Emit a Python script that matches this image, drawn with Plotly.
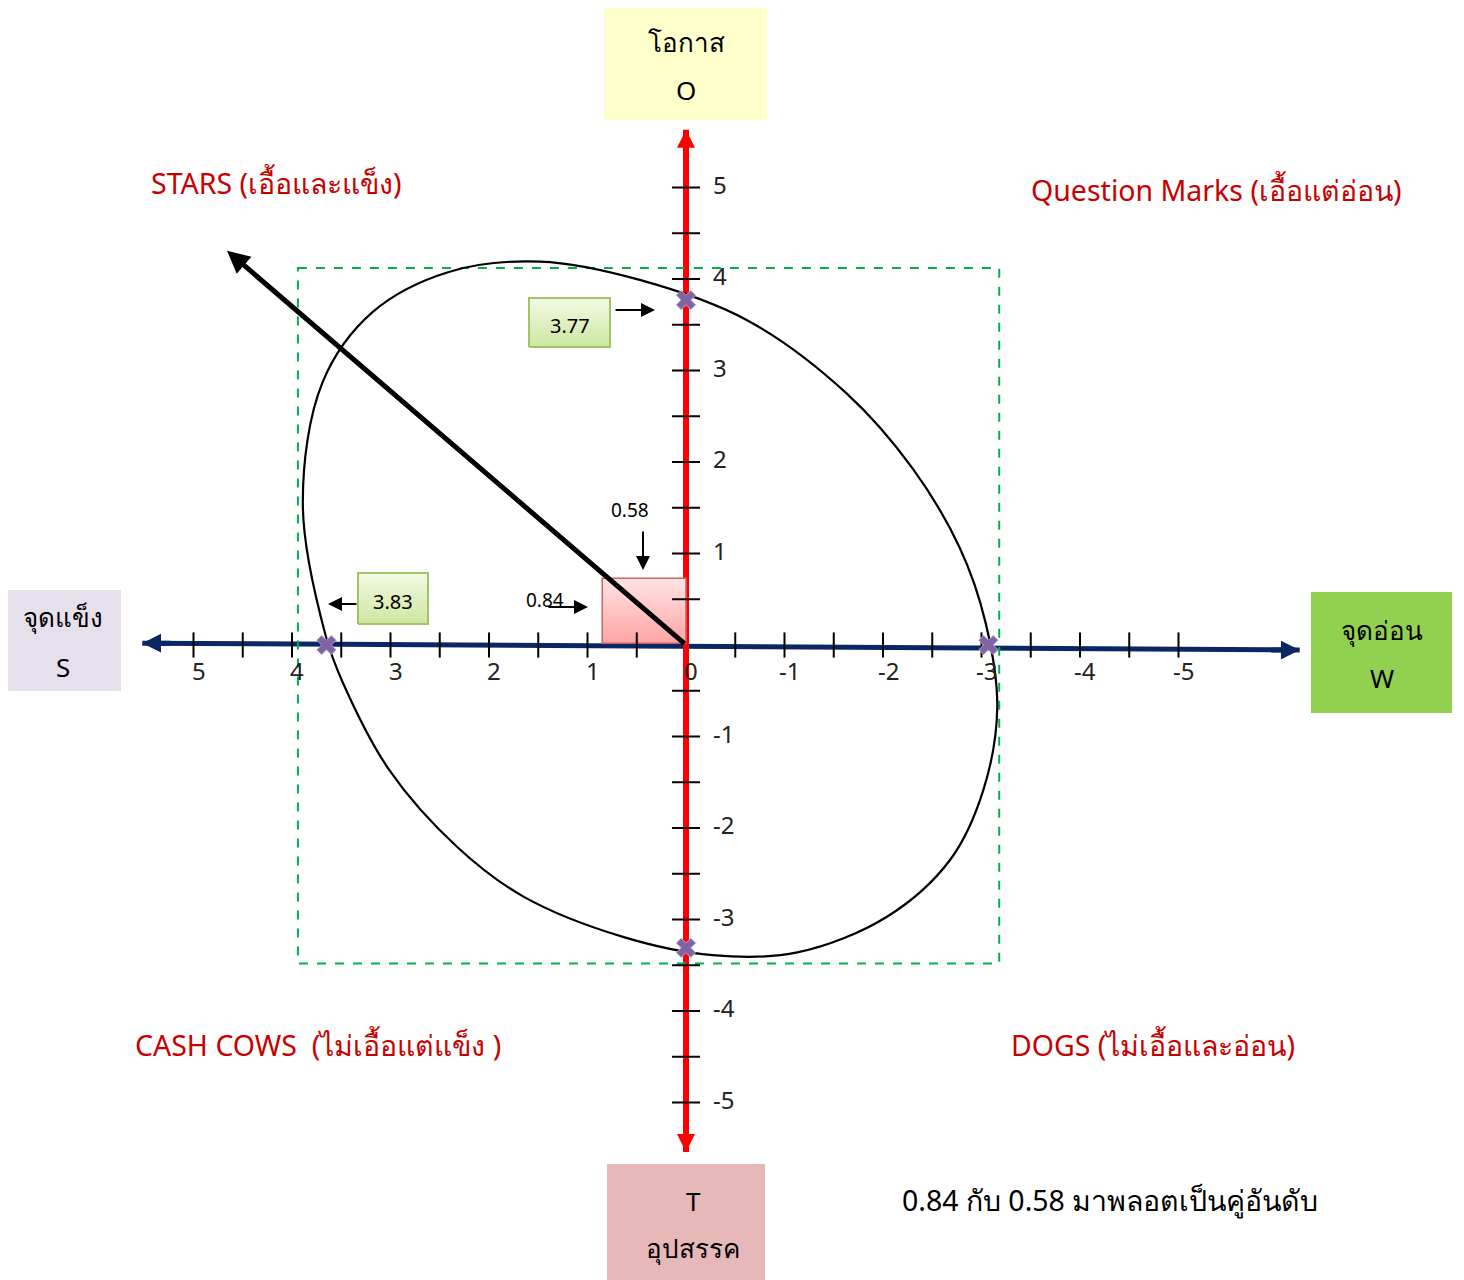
import plotly.graph_objects as go

# ---- values ----
tick_vals = [-5, -4.5, -4, -3.5, -3, -2.5, -2, -1.5, -1, -0.5,
             0.5, 1, 1.5, 2, 2.5, 3, 3.5, 4, 4.5, 5]
x_label_vals = [5, 4, 3, 2, 1, 0, -1, -2, -3, -4, -5]
x_label_text = ["5", "4", "3", "2", "1", "0", "-1", "-2", "-3", "-4", "-5"]
y_label_vals = [5, 4, 3, 2, 1, -1, -2, -3, -4, -5]
y_label_text = ["5", "4", "3", "2", "1", "-1", "-2", "-3", "-4", "-5"]

# outline of the hand drawn ellipse
ell_x = [3.66, 3.89, 3.69, 3.18, 2.40, 1.48, 0.47, -0.62, -1.63, -2.30, -2.78,
         -3.04, -3.16, -3.02, -2.68, -2.04, -1.13, -0.27, 0.64, 1.65, 2.32,
         3.01, 3.48, 3.66]
ell_y = [0.11, 1.53, 2.87, 3.64, 4.08, 4.19, 3.99, 3.55, 2.75, 1.93, 1.06,
         0.25, -0.68, -1.58, -2.35, -2.97, -3.36, -3.39, -3.19, -2.75, -2.21,
         -1.37, -0.42, 0.11]

# where the ellipse cuts the axes
cross_x = [3.65, 0, -3.07, 0]
cross_y = [0, 3.77, 0, -3.31]

# the plotted pair (0.84, 0.58) as drawn, and the direction arrow
sq_w, sq_h = 0.85, 0.73
arrow_tip = (4.66, 4.31)
frame_x = [3.94, -3.18]
frame_y = [4.12, -3.48]
x_axis_ends = [5.52, -6.23]
x_axis_tilt = [0.02, -0.055]
y_axis_ends = [5.63, -5.54]

quadrants = ["STARS (เอื้อและแข็ง)", "Question Marks (เอื้อแต่อ่อน)",
             "CASH COWS  (ไม่เอื้อแต่แข็ง )", "DOGS (ไม่เอื้อและอ่อน)"]
note = "0.84 กับ 0.58 มาพลอตเป็นคู่อันดับ"

# ---- pixel helpers (screen px of the 1464 x 1280 page) ----
OX, OY, SX, SY = 686, 645, 98.5, 91.5
PAGE_PAD = 8  # default body margin of the html page
W, H = 1464 - PAGE_PAD, 1280 - PAGE_PAD


def dx(p):
    return (OX - p) / SX


def dy(p):
    return (OY - p) / SY


FONT = "Noto Sans, DejaVu Sans, sans-serif"
RED = "#C80000"
NAVY = "#0B2763"

fig = go.Figure()

# pink square for the pair
fig.add_trace(go.Scatter(x=[0, sq_w, sq_w, 0, 0], y=[0.02, 0.02, sq_h, sq_h, 0.02],
                         mode="lines", fill="toself",
                         fillgradient=dict(type="vertical",
                                           colorscale=[[0, "#FFA4A4"], [1, "#FFE4E4"]]),
                         line=dict(color="#C86464", width=1.5), hoverinfo="skip"))

# ellipse
fig.add_trace(go.Scatter(x=ell_x, y=ell_y, mode="lines",
                         line=dict(color="black", width=2.2, shape="spline", smoothing=1),
                         hoverinfo="skip"))

# tick marks
fig.add_trace(go.Scatter(x=tick_vals, y=[0] * len(tick_vals), mode="markers",
                         marker=dict(symbol="line-ns", size=18,
                                     line=dict(width=2, color="black")),
                         hoverinfo="skip"))
fig.add_trace(go.Scatter(x=[0] * len(tick_vals), y=tick_vals, mode="markers",
                         marker=dict(symbol="line-ew", size=20,
                                     line=dict(width=2, color="black")),
                         hoverinfo="skip"))

# y tick labels
fig.add_trace(go.Scatter(x=[dx(713)] * len(y_label_vals), y=y_label_vals, mode="text",
                         text=y_label_text, textposition="middle right",
                         textfont=dict(family=FONT, size=24, color="#222"),
                         hoverinfo="skip"))

# green value boxes (3.77 and 3.83)
for (l, t, r, b), txt in [((529, 298, 610, 347), "3.77"), ((358, 573, 428, 624), "3.83")]:
    fig.add_trace(go.Scatter(x=[dx(l), dx(r), dx(r), dx(l), dx(l)],
                             y=[dy(b), dy(b), dy(t), dy(t), dy(b)],
                             mode="lines", fill="toself",
                             fillgradient=dict(type="vertical",
                                               colorscale=[[0, "#CDE6A0"], [1, "#F3FAE4"]]),
                             line=dict(color="#A3C466", width=2), hoverinfo="skip"))
    fig.add_annotation(x=dx((l + r) / 2), y=dy((t + b) / 2 + 3), text=txt, showarrow=False,
                       font=dict(family=FONT, size=20, color="black"))

# intercept crosses
fig.add_trace(go.Scatter(x=cross_x, y=cross_y, mode="markers",
                         marker=dict(symbol="x", size=17, color="#8064A2",
                                     line=dict(width=1, color="#B4A7D6")),
                         hoverinfo="skip"))

shapes = []
# axes lines (under the markers)
shapes.append(dict(type="line", x0=x_axis_ends[0], x1=x_axis_ends[1],
                   y0=x_axis_tilt[0], y1=x_axis_tilt[1],
                   line=dict(color=NAVY, width=5), layer="below"))
shapes.append(dict(type="line", x0=0, x1=0, y0=y_axis_ends[0], y1=y_axis_ends[1],
                   line=dict(color="#FF0000", width=6), layer="below"))
# dashed frame
shapes.append(dict(type="rect", x0=frame_x[0], x1=frame_x[1], y0=frame_y[0], y1=frame_y[1],
                   line=dict(color="#00B050", width=2, dash="dash"), layer="below"))

# SWOT label boxes
boxes = [
    ((604, 5, 767, 120), "#FFFFCC", [("โอกาส", 42), ("O", 90)], 686),
    ((5, 590, 121, 691), "#E6E0EC", [("จุดแข็ง", 617), ("S", 667)], 63),
    ((1311, 592, 1452, 713), "#92D050", [("จุดอ่อน", 630), ("W", 678)], 1382),
    ((607, 1164, 765, 1284), "#E6B9B8", [("T", 1201), ("อุปสรรค", 1248)], 693),
]
for (l, t, r, b), col, lines, cx in boxes:
    shapes.append(dict(type="rect", x0=dx(l), x1=dx(r), y0=dy(t), y1=dy(b),
                       fillcolor=col, line=dict(width=0), layer="below"))
    for txt, yy in lines:
        fig.add_annotation(x=dx(cx), y=dy(yy), text=txt, showarrow=False,
                           font=dict(family=FONT, size=26, color="black"))

# axis arrow heads
fig.add_annotation(x=x_axis_ends[0], y=x_axis_tilt[0], ax=30, ay=0, text="",
                   showarrow=True, arrowhead=2, arrowsize=0.75, arrowwidth=5, arrowcolor=NAVY)
fig.add_annotation(x=x_axis_ends[1], y=x_axis_tilt[1], ax=-30, ay=0, text="",
                   showarrow=True, arrowhead=2, arrowsize=0.75, arrowwidth=5, arrowcolor=NAVY)
fig.add_annotation(x=0, y=y_axis_ends[0], ax=0, ay=30, text="",
                   showarrow=True, arrowhead=2, arrowsize=0.6, arrowwidth=6, arrowcolor="#FF0000")
fig.add_annotation(x=0, y=y_axis_ends[1], ax=0, ay=-30, text="",
                   showarrow=True, arrowhead=2, arrowsize=0.6, arrowwidth=6, arrowcolor="#FF0000")

# x tick labels
for v, txt in zip(x_label_vals, x_label_text):
    fig.add_annotation(x=v, y=dy(670), text=txt, showarrow=False, xshift=5,
                       font=dict(family=FONT, size=24, color="#222"))

# direction arrow from the origin
fig.add_annotation(x=arrow_tip[0], y=arrow_tip[1], ax=0, ay=0, axref="x", ayref="y",
                   text="", showarrow=True, arrowhead=2, arrowsize=0.9, arrowwidth=5,
                   arrowcolor="black")

# small pointer arrows
for tip, tail in [((655, 310), (614, 310)), ((328, 604), (358, 604)),
                  ((643, 570), (643, 530)), ((588, 607), (547, 607))]:
    fig.add_annotation(x=dx(tip[0]), y=dy(tip[1]), ax=tail[0] - tip[0], ay=tail[1] - tip[1],
                       text="", showarrow=True, arrowhead=2, arrowsize=1.4, arrowwidth=2,
                       arrowcolor="black")
fig.add_annotation(x=dx(630), y=dy(510), text="0.58", showarrow=False,
                   font=dict(family=FONT, size=19, color="black"))
fig.add_annotation(x=dx(545), y=dy(600), text="0.84", showarrow=False,
                   font=dict(family=FONT, size=19, color="black"))

# quadrant titles
for txt, (cx, cy) in zip(quadrants, [(276, 183), (1216, 190), (318, 1045), (1153, 1045)]):
    fig.add_annotation(x=dx(cx), y=dy(cy), text=txt, showarrow=False,
                       font=dict(family=FONT, size=28.5, color=RED))

fig.add_annotation(x=dx(1110), y=dy(1200), text=note, showarrow=False,
                   font=dict(family=FONT, size=28.5, color="black"))

fig.update_layout(
    width=W, height=H,
    margin=dict(l=0, r=0, t=0, b=0),
    plot_bgcolor="white", paper_bgcolor="white",
    showlegend=False,
    shapes=shapes,
    xaxis=dict(range=[(OX - PAGE_PAD) / SX, (OX - PAGE_PAD - W) / SX],
               visible=False, fixedrange=True),
    yaxis=dict(range=[(OY - PAGE_PAD - H) / SY, (OY - PAGE_PAD) / SY],
               visible=False, fixedrange=True),
)

fig.write_html("out.html")
